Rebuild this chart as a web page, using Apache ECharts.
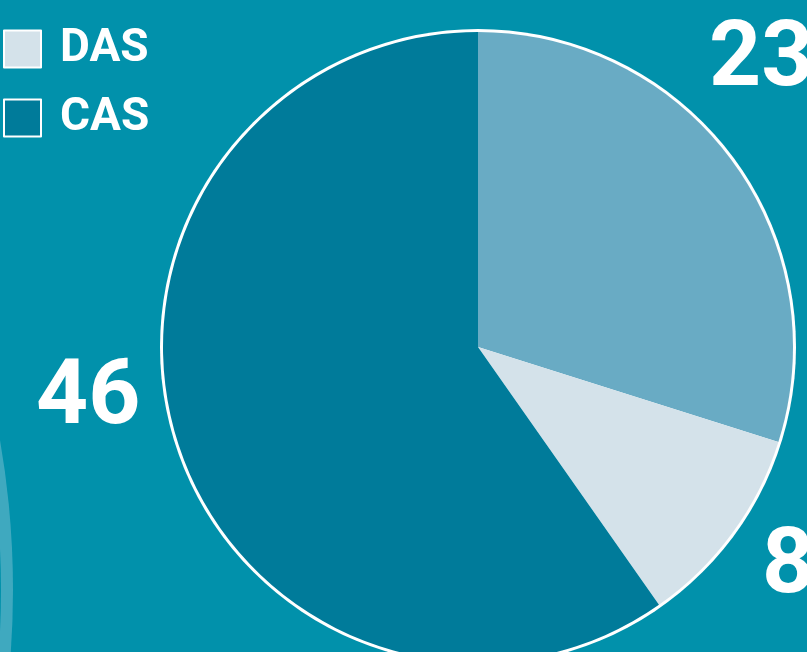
<!DOCTYPE html>
<html>
<head>
<meta charset="utf-8">
<script src="https://cdn.jsdelivr.net/npm/echarts@6/dist/echarts.min.js"></script>
<style>
  html, body { margin: 0; padding: 0; background: #0191ab; }
  #main { width: 807px; height: 652px; }
</style>
</head>
<body>
<div id="main"></div>
<script>
// slices, clockwise from the top
var names = ['Other', 'DAS', 'CAS'];
var values = [23, 8, 46];
var colors = ['#69abc4', '#d4e2ea', '#007b9a'];
var legendNames = ['DAS', 'CAS'];

// where each value label sits (by slice index)
var labelSpots = [
    {x: 709, y: 62},
    {x: 762, y: 569},
    {x: 36, y: 400}
];

var myChart = echarts.init(document.getElementById('main'));

var pieData = [];
for (var i = 0; i < names.length; i++) {
    pieData.push({name: names[i], value: values[i], itemStyle: {color: colors[i]}});
}

var option = {
    backgroundColor: '#0191ab',
    animation: false,
    legend: {
        data: legendNames,
        orient: 'vertical',
        left: 3,
        top: 26,
        padding: 0,
        itemWidth: 37,
        itemHeight: 37,
        itemGap: 23,
        icon: 'rect',
        itemStyle: {borderColor: '#ffffff', borderWidth: 2},
        textStyle: {
            color: '#ffffff',
            fontFamily: 'Roboto',
            fontWeight: 'bold',
            fontSize: 46,
            lineHeight: 37,
            padding: [0, 0, 0, 14]
        }
    },
    graphic: [
        {
            type: 'circle',
            silent: true,
            z: -10,
            shape: {cx: -859, cy: 590, r: 872},
            style: {fill: '#3fa9bf'}
        },
        {
            type: 'circle',
            silent: true,
            z: -9,
            shape: {cx: -859, cy: 590, r: 860},
            style: {fill: '#0191ab'}
        }
    ],
    series: [
        {
            // white outer ring
            type: 'pie',
            silent: true,
            center: [478, 347],
            radius: [0, 318],
            label: {show: false},
            itemStyle: {color: '#ffffff'},
            data: [{name: 'ring', value: 1}],
            z: 1
        },
        {
            name: 'share',
            type: 'pie',
            center: [478, 347],
            radius: [0, 315],
            startAngle: 90,
            clockwise: true,
            avoidLabelOverlap: false,
            z: 2,
            itemStyle: {borderWidth: 0},
            label: {
                show: true,
                position: 'outside',
                formatter: '{c}',
                color: '#ffffff',
                fontFamily: 'Roboto',
                fontWeight: 'bold',
                fontSize: 91
            },
            labelLine: {show: false},
            labelLayout: function (params) {
                var p = labelSpots[params.dataIndex];
                return {x: p.x, y: p.y, align: 'left', verticalAlign: 'middle', hideOverlap: false};
            },
            data: pieData
        }
    ]
};

myChart.setOption(option);
</script>
</body>
</html>
